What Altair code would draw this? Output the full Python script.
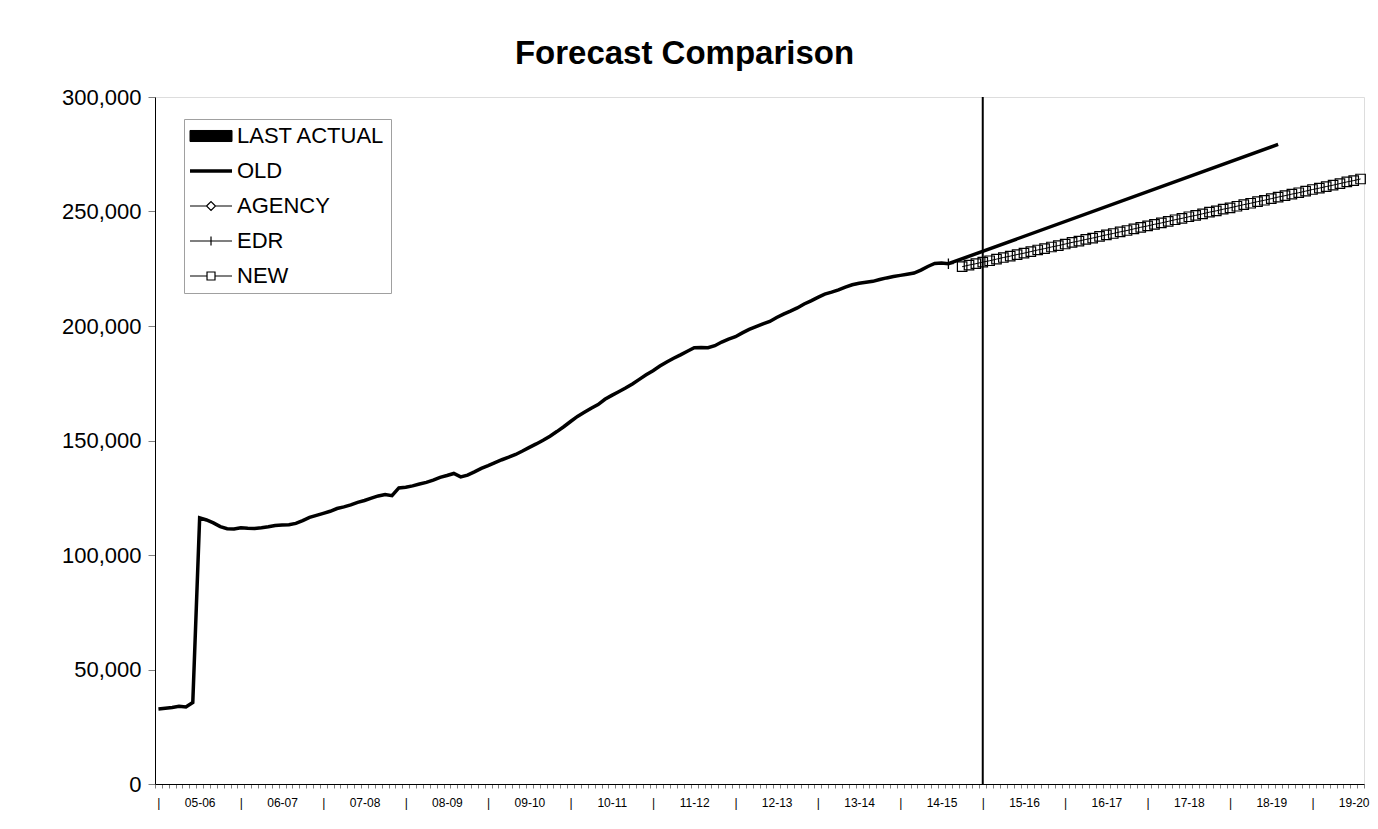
import altair as alt
import pandas as pd

# ---------------- data ----------------
series_names = ["LAST ACTUAL", "OLD", "AGENCY", "EDR", "NEW"]
year_labels = ["05-06", "06-07", "07-08", "08-09", "09-10", "10-11", "11-12", "12-13",
               "13-14", "14-15", "15-16", "16-17", "17-18", "18-19", "19-20"]
n_months = 176  # Jul 2005 .. Feb 2020

# OLD: actual history, month index 0 (Jul 2005) .. 115
old_history = [
    32800, 33100, 33400, 33900, 33600, 35600, 116200, 115300, 114000, 112400,
    111500, 111400, 111900, 111700, 111600, 111900, 112300, 112900, 113100, 113200,
    113800, 115000, 116400, 117300, 118200, 119100, 120300, 121000, 121900, 123000,
    123800, 124800, 125800, 126400, 125900, 129300, 129600, 130200, 131000, 131700,
    132700, 133900, 134700, 135600, 134100, 134900, 136300, 137800, 139000, 140300,
    141600, 142700, 143900, 145400, 147000, 148500, 150100, 151900, 153900, 156000,
    158300, 160500, 162300, 164100, 165700, 168000, 169700, 171300, 172900, 174700,
    176700, 178700, 180500, 182500, 184300, 185900, 187400, 189000, 190500, 190600,
    190500, 191400, 193000, 194300, 195300, 197000, 198500, 199700, 200900, 202000,
    203700, 205200, 206500, 207900, 209600, 211000, 212500, 213900, 214800, 215800,
    217000, 218000, 218700, 219100, 219500, 220300, 221000, 221600, 222100, 222600,
    223100, 224400, 226000, 227300, 227500, 227200,
]
old_forecast_months = [163]
old_forecast_vals = [279300]

edr_months = [115]
edr_vals = [227200]

new_start_month = 117
new_vals = [
    225900, 226600, 227200, 227900, 228500, 229200, 229900, 230500, 231200, 231800,
    232500, 233200, 233800, 234500, 235100, 235800, 236500, 237100, 237800, 238400,
    239100, 239800, 240400, 241100, 241700, 242400, 243100, 243700, 244400, 245000,
    245700, 246400, 247000, 247700, 248300, 249000, 249700, 250300, 251000, 251600,
    252300, 253000, 253600, 254300, 254900, 255600, 256300, 256900, 257600, 258200,
    258900, 259600, 260200, 260900, 261500, 262200, 262900, 263500, 264200,
]

last_actual_month = 120
y_max = 300000
y_ticks = [0, 50000, 100000, 150000, 200000, 250000, 300000]

# ---------------- tables ----------------
old_df = pd.DataFrame({
    "m": list(range(len(old_history))) + old_forecast_months,
    "v": old_history + old_forecast_vals,
})
new_df = pd.DataFrame({"m": list(range(new_start_month, new_start_month + len(new_vals))),
                       "v": new_vals})
edr_df = pd.DataFrame({"m": edr_months, "v": edr_vals})
last_df = pd.DataFrame({"m": [last_actual_month], "lo": [0], "hi": [y_max]})
legend_df = pd.DataFrame({"series": series_names})

FONT = "Liberation Sans"
x_scale = alt.Scale(domain=[-0.5, n_months - 0.5], nice=False, zero=False)

label_array = "[" + ",".join("'%s'" % s for s in year_labels) + "]"
label_expr = ("datum.value % 12 == 0 ? '|' : " + label_array + "[floor(datum.value / 12)]")

tick_axis = alt.Axis(
    title=None, grid=False, orient="bottom",
    values=[m - 0.5 for m in range(n_months + 1)], labels=False,
    tickSize=4, tickColor="#808080", domainColor="black",
)
label_axis = alt.Axis(
    title=None, grid=False, orient="bottom", domain=False, ticks=False,
    values=list(range(0, n_months, 6)), labelExpr=label_expr,
    labelFontSize=12, labelFont=FONT, labelColor="black",
    labelOverlap=False, labelFlush=True, labelPadding=13,
)
y_enc = alt.Y(
    "v:Q",
    scale=alt.Scale(domain=[0, y_max], nice=False),
    axis=alt.Axis(
        title=None, grid=False, values=y_ticks, format=",d", tickSize=7,
        tickColor="#808080", domainColor="black", labelFontSize=22, labelFont=FONT,
        labelColor="black", labelPadding=7,
    ),
)

old_line = alt.Chart(old_df).mark_line(color="black", strokeWidth=3.5).encode(
    x=alt.X("m:Q", scale=x_scale, axis=tick_axis), y=y_enc)
new_line = alt.Chart(new_df).mark_line(color="black", strokeWidth=1).encode(
    x=alt.X("m:Q", scale=x_scale, axis=label_axis), y="v:Q")
new_pts = alt.Chart(new_df).mark_point(
    shape="square", size=90, filled=False, color="black", strokeWidth=1.2, opacity=1
).encode(x=alt.X("m:Q", axis=None), y="v:Q")
edr_pts = alt.Chart(edr_df).mark_point(
    shape="M0,-1V1M-1,0H1", size=110, filled=False, color="black", strokeWidth=1.3, opacity=1
).encode(x=alt.X("m:Q", axis=None), y="v:Q")
last_rule = alt.Chart(last_df).mark_rule(color="black", strokeWidth=2).encode(
    x=alt.X("m:Q", axis=None), y="lo:Q", y2="hi:Q")

legend_paths = [
    "M-1.57,-0.79H4.43V0.79H-1.57Z",
    "M-1.57,0H4.43",
    "M-1.57,0H0.79M2.07,0H4.43M0.79,0L1.43,-0.64L2.07,0L1.43,0.64Z",
    "M-1.57,0H4.43M1.43,-0.64V0.64",
    "M-1.57,0H0.86M2.0,0H4.43M0.86,-0.57H2.0V0.57H0.86Z",
]
legend_fills = ["black", "white", "white", "white", "white"]
legend_strokes = ["black", "black", "black", "black", "black"]
legend_widths = [1, 3.5, 1.2, 1.2, 1.2]

leg = alt.Legend(
    title=None, orient="none", legendX=29, legendY=22, padding=6,
    strokeColor="#a0a0a0", fillColor="white", labelFont=FONT, labelFontSize=22,
    labelColor="black", labelOffset=25, rowPadding=13, symbolSize=196,
    labelLimit=400,
)
legend_layer = alt.Chart(legend_df).mark_point(
    size=196, filled=False, stroke="black", opacity=1
).encode(
    shape=alt.Shape("series:N", scale=alt.Scale(domain=series_names, range=legend_paths), legend=leg),
    fill=alt.Fill("series:N", scale=alt.Scale(domain=series_names, range=legend_fills), legend=leg),
    stroke=alt.Stroke("series:N", scale=alt.Scale(domain=series_names, range=legend_strokes), legend=leg),
    strokeWidth=alt.StrokeWidth(
        "series:N",
        scale=alt.Scale(type="ordinal", domain=series_names, range=legend_widths),
        legend=leg,
    ),
).transform_filter("false")

chart = alt.layer(
    old_line, new_line, new_pts, edr_pts, last_rule, legend_layer
).resolve_axis(
    x="independent"
).properties(
    width=1209, height=687,
    title=alt.TitleParams(
        "Forecast Comparison", font=FONT, fontSize=33, fontWeight="bold", color="black",
        anchor="middle", dx=-75, dy=33, offset=22, baseline="alphabetic",
    ),
    autosize=alt.AutoSizeParams(type="none"),
    padding={"left": 147, "top": 89, "right": 6, "bottom": 37},
).configure_view(
    stroke="black", strokeWidth=1
).configure(font=FONT)

chart.save("out.html", embed_options={"renderer": "svg", "actions": False})
